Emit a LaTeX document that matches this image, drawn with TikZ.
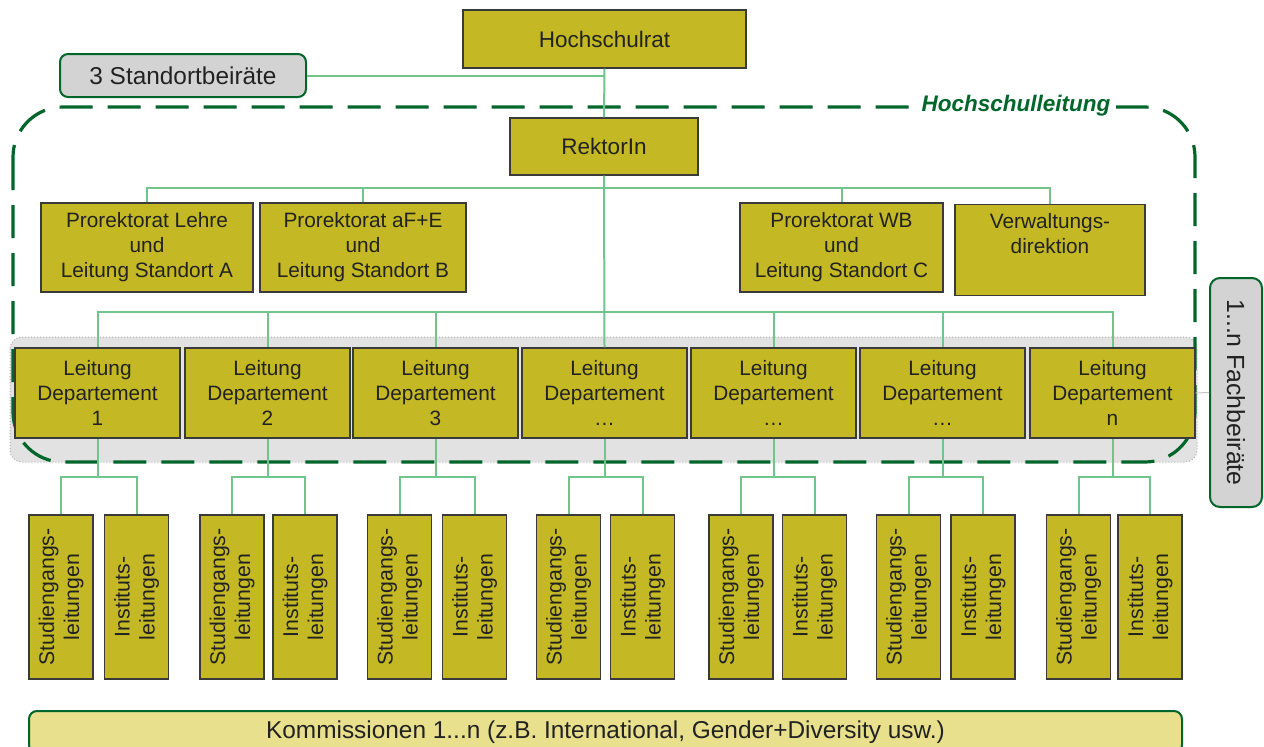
\documentclass[tikz,border=0pt]{standalone}
\usepackage{fontspec}
\setmainfont{Liberation Sans}
\definecolor{boxfill}{RGB}{196,185,36}
\definecolor{boxline}{RGB}{58,58,58}
\definecolor{connc}{RGB}{112,196,140}
\definecolor{dgreen}{RGB}{0,102,42}
\definecolor{gfill}{RGB}{211,211,211}
\definecolor{bandc}{RGB}{226,226,226}
\definecolor{kfill}{RGB}{232,224,140}
\definecolor{txt}{RGB}{34,34,34}
\newcommand\myfs{\fontsize{20.8}{25}\selectfont}
\newcommand\myfst{\fontsize{22.5}{25}\selectfont}
\newcommand\myfsl{\fontsize{24.4}{28}\selectfont}
\newcommand\myfsb{\fontsize{22.5}{25}\selectfont}
\begin{document}
\begin{tikzpicture}[x=1pt,y=-1pt,
  box/.style={draw=boxline, fill=boxfill, line width=1.3pt, inner sep=0pt, align=center, font=\myfs, text=txt},
  subbox/.style={box, rotate=90, minimum width=164pt, minimum height=64pt, font=\fontsize{21.3}{25}\selectfont},
  deptbox/.style={box, minimum width=165pt, minimum height=90pt},
  conn/.style={draw=connc, line width=2pt},
  gbox/.style={draw=dgreen, fill=gfill, line width=2pt, rounded corners=8pt, inner sep=0pt, font=\myfsl, text=txt, align=center},
]
\useasboundingbox (0,0) rectangle (1264,747);
\fill[white] (0,0) rectangle (1264,747);

% grey band of department heads
\draw[gray!60, dotted, fill=bandc, rounded corners=12pt, line width=1pt] (10,337) rectangle (1197,462);
% Hochschulleitung frame
\draw[dgreen, line width=3.2pt, dash pattern=on 33pt off 15pt, rounded corners=50pt] (13,107) rectangle (1195,462);
\node[font=\myfsb\bfseries\itshape, text=dgreen, fill=white, inner xsep=6pt, inner ysep=1pt] (hl) at (1016,106) {Hochschulleitung};

% top
\node[box, minimum width=283pt, minimum height=58pt, font=\myfst] (rat) at (604.5,39) {Hochschulrat};
\node[gbox, minimum width=246pt, minimum height=43pt] (stb) at (183,75.5) {3 Standortbeiräte};
\node[box, minimum width=188pt, minimum height=57pt, font=\myfst] (rek) at (604,146.5) {RektorIn};

% Prorektorate
\node[box, minimum width=212pt, minimum height=89pt] (p1) at (147,247.5) {Prorektorat Lehre\\und\\Leitung Standort A};
\node[box, minimum width=206pt, minimum height=89pt] (p2) at (363,247.5) {Prorektorat aF+E\\und\\Leitung Standort B};
\node[box, minimum width=203pt, minimum height=89pt] (p3) at (841.5,247.5) {Prorektorat WB\\und\\Leitung Standort C};
\node[box, minimum width=190pt, minimum height=91pt] (p4) at (1050,250) {Verwaltungs-\\direktion\\\strut};

% Departments
\node[deptbox] (d1) at (97.5,393) {Leitung\\Departement\\1};
\node[deptbox] (d2) at (267.5,393) {Leitung\\Departement\\2};
\node[deptbox] (d3) at (435.5,393) {Leitung\\Departement\\3};
\node[deptbox] (d4) at (604.5,393) {Leitung\\Departement\\\dots};
\node[deptbox] (d5) at (773.5,393) {Leitung\\Departement\\\dots};
\node[deptbox] (d6) at (942.5,393) {Leitung\\Departement\\\dots};
\node[deptbox] (d7) at (1112.5,393) {Leitung\\Departement\\n};

% Sub boxes
\node[subbox] (s1) at (61,597) {Studiengangs-\\leitungen};
\node[subbox] (i1) at (136.5,597) {Instituts-\\leitungen};
\node[subbox] (s2) at (232,597) {Studiengangs-\\leitungen};
\node[subbox] (i2) at (305,597) {Instituts-\\leitungen};
\node[subbox] (s3) at (399.5,597) {Studiengangs-\\leitungen};
\node[subbox] (i3) at (474.5,597) {Instituts-\\leitungen};
\node[subbox] (s4) at (568.5,597) {Studiengangs-\\leitungen};
\node[subbox] (i4) at (642.5,597) {Instituts-\\leitungen};
\node[subbox] (s5) at (741,597) {Studiengangs-\\leitungen};
\node[subbox] (i5) at (814.5,597) {Instituts-\\leitungen};
\node[subbox] (s6) at (908.5,597) {Studiengangs-\\leitungen};
\node[subbox] (i6) at (983,597) {Instituts-\\leitungen};
\node[subbox] (s7) at (1078.5,597) {Studiengangs-\\leitungen};
\node[subbox] (i7) at (1150,597) {Instituts-\\leitungen};

% Fachbeiraete
\node[gbox, rotate=-90, minimum width=229pt, minimum height=52pt, rounded corners=10pt, font=\fontsize{24.8}{28}\selectfont] (fb) at (1236,392.5) {1...n Fachbeiräte};
\draw[gray!45, line width=1pt] (d7.east) -- (fb.south);

% Kommissionen
\node[draw=dgreen, fill=kfill, line width=2pt, rounded corners=8pt, minimum width=1153pt, minimum height=42pt, inner sep=0pt, font=\myfsl, text=txt] (kom) at (605.5,732) {Kommissionen 1...n (z.B. International, Gender+Diversity usw.)};

% connectors
\draw[conn] (rat.south) -- (rek.north);
\draw[conn] (stb.east) -- (stb.east -| rat.south);
\coordinate (b1) at (604,188);
\draw[conn] (p1.north) |- (b1) -| (p4.north);
\draw[conn] (p2.north) -- (p2.north |- b1);
\draw[conn] (p3.north) -- (p3.north |- b1);
\draw[conn] (rek.south) -- (d4.north);
\coordinate (b2) at (604,312);
\draw[conn] (d1.north) |- (b2) -| (d7.north);
\foreach \d in {d2,d3,d5,d6} {\draw[conn] (\d.north) -- (\d.north |- b2);}
\foreach \k in {1,...,7} {
  \draw[conn] (d\k.south) -- ++(0,38) coordinate (c\k);
  \draw[conn] (s\k.east) |- (c\k) -| (i\k.east);
}
\end{tikzpicture}
\end{document}
